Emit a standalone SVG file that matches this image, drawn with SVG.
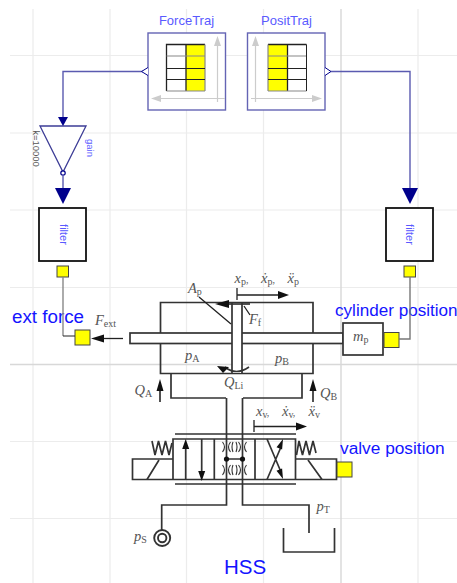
<svg xmlns="http://www.w3.org/2000/svg" width="457" height="583" viewBox="0 0 457 583">
<style>
.g{stroke:#ececec;stroke-width:1.2;fill:none}
.gd{stroke:#d8d8d8;stroke-width:1.4;fill:none}
.l{stroke:#333;stroke-width:1.7;fill:none}
.f{stroke:#333;stroke-width:1.1;fill:none}
.t{stroke:#222;stroke-width:1.3;fill:none}
.w{stroke:#5a5ab0;stroke-width:1.4;fill:none}
.bl{fill:#00008c;stroke:none}
.y{fill:#ffff00;stroke:#444;stroke-width:1}
.b{font-family:"Liberation Sans",Arial,sans-serif;fill:#1414ff}
.s{font-family:"Liberation Sans",Arial,sans-serif;fill:#5a5aff}
.m{font-family:"Liberation Serif","Times New Roman",serif;fill:#555;font-size:14.5px;font-style:italic}
.m tspan{font-size:10px;font-style:normal}
.k{fill:#111;stroke:none}
</style>
<rect width="457" height="583" fill="#fff"/>
<g id="grid">
<path class="g" d="M33 9V583M110 9V583M186.500 9V583M263.500 9V583M418 9V583M10 55.500H457M10 133H457M10 210H457M10 287.500H457M10 441.500H457M10 518.500H457"/>
<path class="gd" d="M341 9V583M10 364.500H457"/>
</g>
<g id="ForceTraj">
<rect x="148" y="33" width="77.500" height="77" fill="#fff" stroke="#6464b4" stroke-width="1.400"/>
<path d="M217.500 102V45M225 98.500H158" stroke="#ccc" stroke-width="1.200" fill="none"/>
<path d="M214 46L217.500 36L221 46Z M161 95L151 98.500L161 102Z" fill="#ccc"/>
<rect x="186" y="44.500" width="19" height="46.500" fill="#ffff00"/>
<path class="t" d="M205 44.500H166.500V91M186 44.500V91"/>
<path d="M166.500 91H205M166.500 56H205M205 44.500V91" stroke="#888" stroke-width="1.200" fill="none"/>
<path d="M166.500 68.500H205M166.500 79.500H205" stroke="#222" stroke-width="1" fill="none"/>
<text class="s" x="186.500" y="25" font-size="13" text-anchor="middle">ForceTraj</text>
</g>
<g id="PositTraj">
<rect x="247.500" y="33" width="77.500" height="77" fill="#fff" stroke="#6464b4" stroke-width="1.400"/>
<path d="M255.500 102V45M251 98.500H318" stroke="#ccc" stroke-width="1.200" fill="none"/>
<path d="M252 46L255.500 36L259 46Z M312 95L322 98.500L312 102Z" fill="#ccc"/>
<rect x="268" y="44.500" width="19.500" height="46.500" fill="#ffff00"/>
<path class="t" d="M306.500 44.500H268M287.500 44.500V91"/>
<path d="M268 91H306.500M268 56H306.500M268 44.500V91" stroke="#888" stroke-width="1.200" fill="none"/>
<path d="M306.500 44.500V91M268 68.500H306.500M268 79.500H306.500" stroke="#222" stroke-width="1" fill="none"/>
<text class="s" x="286.500" y="25" font-size="13" text-anchor="middle">PositTraj</text>
</g>
<g id="gain">
<path d="M40 126H86L63 172Z" fill="#fff" stroke="#3c3c96" stroke-width="1.300"/>
<circle cx="63" cy="173" r="2.200" fill="#fff" stroke="#00008c" stroke-width="1.200"/>
<text class="s" x="0" y="0" font-size="9.500" text-anchor="middle" transform="translate(86.500 148) rotate(90)">gain</text>
<text x="0" y="0" font-size="9.500" font-family="Liberation Sans,Arial,sans-serif" fill="#555" text-anchor="middle" transform="translate(33 148.500) rotate(90)">k=10000</text>
</g>
<g id="filterLeft">
<rect x="39" y="208" width="47" height="53" fill="#fff" stroke="#111" stroke-width="1.800"/>
<text class="s" x="0" y="0" font-size="11" text-anchor="middle" transform="translate(59.500 234.500) rotate(90)">filter</text>
<rect class="y" x="57" y="266" width="11.500" height="11"/>
</g>
<g id="filterRight">
<rect x="386" y="208" width="47" height="53" fill="#fff" stroke="#111" stroke-width="1.800"/>
<text class="s" x="0" y="0" font-size="11" text-anchor="middle" transform="translate(406 234.500) rotate(90)">filter</text>
<rect class="y" x="404" y="266" width="11.500" height="11"/>
</g>
<g id="HSS">
<path class="l" d="M160.500 302.500H313V373.500H160.500Z"/>
<rect x="130" y="333" width="213" height="10.500" fill="#fff" stroke="#333" stroke-width="1.700"/>
<rect x="232" y="303" width="10" height="70" fill="#fff" stroke="none"/>
<path class="l" d="M232 303V373M242 303V373"/>
<path class="l" d="M171 373.500V398H226M302 373.500V398H243"/>
<path class="l" d="M226.500 398V505H161.700V530M242.500 398V505H309V533"/>
<circle cx="162.200" cy="538" r="8" fill="#fff" stroke="#333" stroke-width="1.900"/>
<circle cx="162.200" cy="538" r="4.200" fill="#fff" stroke="#333" stroke-width="1.900"/>
<path class="l" d="M283.500 528V552H334.500V528"/>
<rect x="343" y="323" width="40" height="32" fill="#fff" stroke="#333" stroke-width="1.700"/>
<path class="l" d="M175 434H296M175 484H296M173 439H295.500V479.500H173ZM132.500 459H173V479.500H132.500ZM295.500 459H336.500V479.500H295.500Z"/>
<path class="l" d="M147 479.500L159 460M308 460L322 479.500M185.700 479.500V447M201.700 439V473M214.300 439V479.500M255 439V479.500M267 479.500L281 447M267 439L281 472M226.500 459H242.500"/>
<path class="l" stroke-width="1.400" d="M152 441l3 14 3.500 -14 3.500 14 3.500 -14 3.500 14 3 -12M296.500 455l2.500 -14 3.500 14 3.500 -14 3.500 14 3.500 -14 3 12"/>
<path class="f" stroke-width="1.400" d="M222.500 442q4 5 0 10M230.500 442q-4 5 0 10M222.500 465q4 5 0 10M230.500 465q-4 5 0 10M238.500 442q4 5 0 10M246.500 442q-4 5 0 10M238.500 465q4 5 0 10M246.500 465q-4 5 0 10M233 442q-2 5 0 10M236 442q2 5 0 10M233 465q-2 5 0 10M236 465q2 5 0 10"/>
<circle class="k" cx="226.500" cy="459" r="2.600"/>
<circle class="k" cx="242.500" cy="459" r="2.600"/>
<path class="k" d="M182.200 449L185.700 439L189.200 449Z M198.200 471L201.700 481L205.200 471Z M283 439L282.100 449.400L276.500 447.200Z M283 479L276.500 470.800L282.100 468.600Z"/>
<path class="l" d="M226 304H250"/>
<path class="k" d="M229 300L215 304L229 308Z"/>
<path class="l" stroke-width="1.400" d="M225 367Q236 376 249 367"/>
<path class="k" d="M217 366L229 367L223 373Z"/>
<path class="t" d="M199 297L231 324M244 306L250 315"/>
<path class="t" d="M237 288V300M237 295H282"/>
<path class="k" d="M278 291L289 295L278 299Z"/>
<path class="t" d="M254 420V432M254 426.500H300"/>
<path class="k" d="M296 422.500L307 426.500L296 430.500Z"/>
<path class="t" d="M123 338.500H98"/>
<path class="k" d="M104 334.500L91 338.500L104 342.500Z"/>
<path class="l" d="M160 402V385M313 402V385"/>
<path class="k" d="M156.500 391L160 379L163.500 391Z M309.500 391L313 379L316.500 391Z"/>
<text class="m" x="188" y="293">A<tspan dy="2">p</tspan></text>
<text class="m" x="249" y="324">F<tspan dy="2">f</tspan></text>
<text class="m" x="234.500" y="283">x<tspan dy="2">p</tspan><tspan dy="-2" font-size="14.500">,</tspan></text>
<text class="m" x="261" y="283">ẋ<tspan dy="2">p</tspan><tspan dy="-2" font-size="14.500">,</tspan></text>
<text class="m" x="287.500" y="283">ẍ<tspan dy="2">p</tspan></text>
<text class="m" x="256" y="416">x<tspan dy="2">v</tspan><tspan dy="-2" font-size="14.500">,</tspan></text>
<text class="m" x="282" y="416">ẋ<tspan dy="2">v</tspan><tspan dy="-2" font-size="14.500">,</tspan></text>
<text class="m" x="308.500" y="416">ẍ<tspan dy="2">v</tspan></text>
<text class="m" x="95" y="325">F<tspan dy="2">ext</tspan></text>
<text class="m" x="185" y="360">p<tspan dy="2">A</tspan></text>
<text class="m" x="275" y="363">p<tspan dy="2">B</tspan></text>
<text class="m" x="224" y="387">Q<tspan dy="2">Li</tspan></text>
<text class="m" x="134.500" y="395">Q<tspan dy="2">A</tspan></text>
<text class="m" x="320" y="398">Q<tspan dy="2">B</tspan></text>
<text class="m" x="353" y="341">m<tspan dy="2">p</tspan></text>
<text class="m" x="134" y="541">p<tspan dy="2">S</tspan></text>
<text class="m" x="316.500" y="511">p<tspan dy="2">T</tspan></text>
<text class="b" x="12" y="323" font-size="18.800">ext force</text>
<text class="b" x="335" y="316" font-size="17.100">cylinder position</text>
<text class="b" x="340" y="454" font-size="17.300">valve position</text>
<text class="b" x="224" y="574" font-size="20.500">HSS</text>
<rect class="y" x="75" y="330" width="15" height="15" stroke="#222"/>
<rect class="y" x="384" y="332.500" width="15" height="15" stroke="#111"/>
<rect class="y" x="337" y="462" width="15" height="15"/>
</g>
<g id="connectors">
<path class="w" d="M143 71.500H63V118"/>
<path class="bl" d="M58 117H68L63 126Z"/>
<path d="M148 67.500L141.500 71.500L148 75.500" fill="#fff" stroke="#00008c" stroke-width="1"/>
<path class="w" d="M63 175V190"/>
<path class="bl" d="M55 188H71L63 204Z"/>
<path d="M325 67.500L331 71.500L325 75.500" fill="#fff" stroke="#00008c" stroke-width="1"/>
<path class="w" d="M331 71.500H410V190"/>
<path class="bl" d="M402 188H418L410 204Z"/>
<path d="M63 277V336" stroke="#888" stroke-width="1.400" fill="none"/>
<path d="M63 336H75" stroke="#222" stroke-width="1" fill="none"/>
<path d="M410 277V339H399" stroke="#777" stroke-width="1.400" fill="none"/>
</g>
</svg>
